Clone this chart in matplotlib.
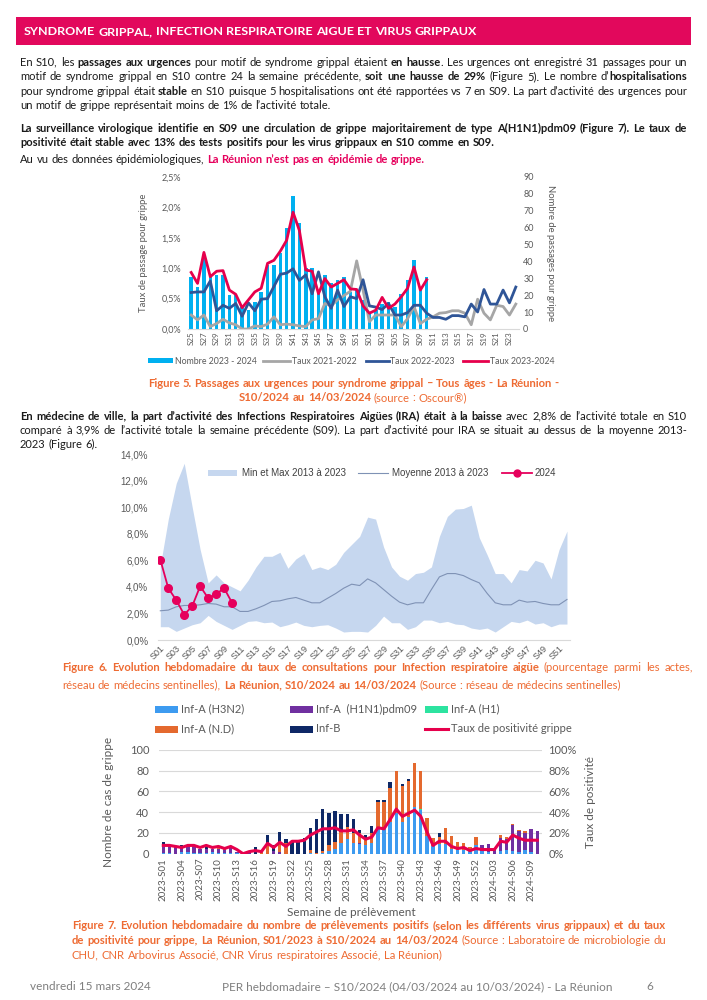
import numpy as np
import matplotlib
matplotlib.use('Agg')
from matplotlib import pyplot as plt
from matplotlib.patches import Rectangle
from matplotlib.lines import Line2D
from matplotlib.ticker import FuncFormatter

# ---------------- Figure 5 : passages aux urgences (S25 -> S24) ----------------
weeks5 = ['S%02d' % w for w in list(range(25, 53)) + list(range(1, 25))]
nombre_2324 = [31, 25, 43, 31, 32, 32, 20, 20, 13, 11, 16, 22, 38, 38, 45, 60, 79, 63, 36, 36,
               22, 32, 27, 29, 31, 22, 23, 17, 9, 11, 15, 16, 13, 21, 29, 41, 24, 31]
taux_2324 = [0.93, 0.75, 1.26, 0.86, 0.95, 0.96, 0.64, 0.57, 0.35, 0.48, 0.61, 0.67, 1.08, 1.13,
             1.28, 1.46, 1.92, 1.62, 0.97, 0.95, 0.58, 0.83, 0.69, 0.75, 0.81, 0.66, 0.65, 0.38,
             0.26, 0.31, 0.52, 0.34, 0.41, 0.53, 0.67, 1.02, 0.64, 0.81]
taux_2223 = [0.60, 0.61, 0.61, 0.79, 0.30, 0.39, 0.34, 0.42, 0.21, 0.43, 0.30, 0.49, 0.50, 0.70,
             0.90, 0.92, 0.99, 0.80, 0.89, 0.58, 0.94, 0.53, 0.34, 0.64, 0.37, 0.53, 0.50, 0.81,
             0.38, 0.36, 0.32, 0.42, 0.23, 0.23, 0.27, 0.39, 0.39, 0.26, 0.19, 0.19, 0.16, 0.22,
             0.22, 0.20, 0.41, 0.28, 0.65, 0.41, 0.41, 0.64, 0.43, 0.69]
taux_2122 = [0.23, 0.15, 0.23, 0.04, 0.09, 0.16, 0.10, 0.07, 0.0, 0.0, 0.05, 0.04, 0.08, 0.20,
             0.07, 0.08, 0.07, 0.05, 0.04, 0.15, 0.17, 0.42, 0.38, 0.48, 0.55, 0.62, 1.12, 0.64,
             0.12, 0.23, 0.23, 0.23, 0.23, 0.04, 0.17, 0.37, 0.09, 0.16, 0.20, 0.26, 0.27, 0.30,
             0.30, 0.26, 0.07, 0.49, 0.26, 0.15, 0.39, 0.37, 0.23, 0.41]

# ---------------- Figure 6 : IRA medecins sentinelles ----------------
weeks6 = ['S%02d' % w for w in range(1, 53)]
ira_max = [5.6, 9.1, 11.8, 13.3, 10.0, 6.8, 4.3, 4.9, 4.3, 4.0, 3.7, 4.5, 5.5, 6.3, 6.3, 6.6,
           5.4, 6.1, 6.5, 5.3, 5.5, 5.3, 5.7, 6.6, 7.2, 7.8, 9.25, 9.1, 7.0, 5.5, 4.8, 4.5, 5.0,
           5.1, 5.5, 7.8, 9.3, 9.85, 9.9, 10.15, 7.7, 6.4, 5.0, 5.0, 4.3, 5.3, 5.2, 6.0, 5.8,
           4.6, 6.8, 8.2]
ira_min = [1.0, 1.0, 0.65, 0.9, 1.15, 1.3, 1.85, 1.4, 1.1, 0.8, 1.1, 1.4, 1.45, 1.3, 1.35, 1.0,
           1.15, 1.35, 1.1, 1.0, 1.1, 1.15, 0.9, 0.6, 0.65, 0.65, 0.6, 1.1, 1.8, 1.3, 1.3, 0.8,
           1.0, 1.5, 1.5, 1.3, 1.4, 1.2, 1.15, 0.9, 0.8, 0.9, 0.6, 1.0, 1.4, 1.3, 1.5, 1.2, 1.3,
           1.0, 1.2, 1.2]
ira_moy = [2.2, 2.25, 2.5, 2.6, 2.6, 2.65, 2.75, 2.7, 2.5, 2.5, 2.15, 2.15, 2.35, 2.6, 2.9,
           2.95, 3.1, 3.2, 3.0, 2.8, 2.8, 3.15, 3.5, 3.9, 4.2, 4.1, 4.6, 4.3, 3.8, 3.3, 2.85,
           2.65, 2.8, 2.8, 3.8, 4.75, 5.0, 5.0, 4.85, 4.55, 4.3, 3.5, 2.8, 2.65, 2.65, 3.0, 2.85,
           2.9, 2.75, 2.65, 2.65, 3.05]
ira_2024 = [6.05, 3.9, 3.0, 1.9, 2.55, 4.05, 3.15, 3.45, 3.9, 2.8]

# ---------------- Figure 7 : virologie ----------------
weeks7 = ['2023-S%02d' % w for w in range(1, 53)] + ['2024-S%02d' % w for w in range(1, 11)]
inf_h3n2 = [1, 1, 0, 2, 2, 1, 1, 1, 2, 1, 1, 1, 1, 0, 0, 0, 0, 0, 0, 0,
            0, 0, 0, 0, 1, 0, 1, 3, 5, 10, 14, 10, 9, 8, 10, 24, 24, 31, 39, 31,
            35, 45, 42, 17, 7, 9, 9, 5, 4, 4, 3, 8, 3, 2, 0, 3, 4, 3, 2, 4, 2, 0]
inf_h1n1 = [5, 7, 7, 4, 5, 7, 4, 4, 3, 4, 3, 6, 1, 0, 2, 0, 0, 0, 3, 2,
            0, 0, 0, 0, 0, 0, 0, 0, 0, 0, 0, 0, 1, 0, 0, 0, 0, 0, 0, 0,
            0, 0, 0, 0, 0, 0, 0, 0, 0, 0, 0, 0, 5, 7, 4, 12, 10, 25, 20, 16, 22, 22]
inf_h1 = [0, 0, 0, 0, 0, 0, 0, 0, 0, 0, 0, 0, 0, 0, 0, 0, 0, 0, 0, 0,
          0, 0, 0, 0, 0, 0, 0, 0, 0, 0, 0, 0, 0, 0, 0, 0, 0, 0, 0, 0,
          0, 0, 1, 0, 0, 0, 0, 0, 0, 0, 0, 0, 0, 0, 0, 0, 0, 0, 0, 0, 0, 0]
inf_nd = [2, 0, 0, 0, 0, 0, 0, 0, 0, 1, 1, 0, 0, 0, 0, 0, 2, 8, 0, 8,
          10, 0, 0, 0, 3, 1, 2, 5, 6, 11, 12, 10, 10, 5, 10, 26, 26, 32, 41, 34,
          35, 42, 37, 17, 8, 7, 16, 12, 7, 6, 3, 8, 0, 0, 0, 3, 2, 1, 1, 2, 0, 0]
inf_b = [3, 0, 0, 2, 0, 0, 0, 3, 0, 1, 0, 0, 0, 0, 0, 6, 0, 10, 5, 11,
         4, 12, 12, 15, 21, 32, 40, 31, 30, 17, 12, 13, 3, 5, 7, 2, 2, 6, 0, 2,
         2, 0, 0, 0, 0, 4, 0, 0, 0, 0, 0, 0, 0, 0, 0, 0, 0, 0, 0, 0, 0, 0]
taux_pos = [8, 8, 7, 6, 8, 8, 6, 8, 6, 7, 5, 7, 4, 0, 2, 3, 2, 10, 6, 11,
            7, 12, 12, 13, 18, 21, 24, 24, 25, 22, 22, 23, 18, 14, 16, 25, 24, 33, 43, 36,
            39, 42, 36, 21, 8, 12, 12, 7, 5, 6, 3, 5, 4, 4, 4, 12, 11, 18, 15, 13, 13, 13]

W, H = 707, 1000
FONT = ['Lato', 'DejaVu Sans']
ARIAL = ['Liberation Sans', 'DejaVu Sans']
PINK = '#E6005C'
ORANGE = '#EE6B33'
GREY = '#595959'

fig = plt.figure(figsize=(W / 100, H / 100), dpi=100)
renderer = fig.canvas.get_renderer()


def fx(x):
    return x / W


def fy(y):
    return 1 - y / H


def rect(x0, y0, x1, y1):
    return [fx(x0), fy(y1), (x1 - x0) / W, (y1 - y0) / H]


def width_of(s, size, bold):
    t = fig.text(0, 0, s, fontsize=size, family=FONT, fontweight='bold' if bold else 'normal')
    w = t.get_window_extent(renderer).width
    t.remove()
    return w


def split_words(segs):
    words, cur = [], []
    for seg in segs:
        txt, bold = seg[0], seg[1]
        col = seg[2] if len(seg) > 2 else None
        for ch in txt:
            if ch == ' ':
                if cur:
                    words.append(cur)
                    cur = []
            elif cur and cur[-1][1] == bold and cur[-1][2] == col:
                cur[-1][0] += ch
            else:
                cur.append([ch, bold, col])
    if cur:
        words.append(cur)
    return words


def natural_width(segs, size):
    words = split_words(segs)
    sp = width_of('a a', size, False) - width_of('aa', size, False)
    return sum(width_of(p[0], size, p[1]) for w in words for p in w) + sp * (len(words) - 1)


def draw_line(segs, x0, x1, y, size, align='left', color='#1A1A1A'):
    words = split_words(segs)
    widths = [[width_of(p[0], size, p[1]) for p in w] for w in words]
    wsum = sum(sum(w) for w in widths)
    sp = width_of('a a', size, False) - width_of('aa', size, False)
    if align == 'justify' and len(words) > 1:
        gap = (x1 - x0 - wsum) / (len(words) - 1)
    else:
        gap = sp
    total = wsum + gap * (len(words) - 1)
    x = (x0 + x1) / 2 - total / 2 if align == 'center' else x0
    ybase = y + 0.33 * size * 100 / 72
    for w, ws in zip(words, widths):
        for (s, bold, col), pw in zip(w, ws):
            fig.text(fx(x), fy(ybase), s, fontsize=size, family=FONT,
                     fontweight='bold' if bold else 'normal',
                     color=col if col else color, va='baseline', ha='left')
            x += pw
        x += gap


N, B = False, True

# ---------------- texte ----------------
p1 = [
    [("En S10, les ", N), ("passages aux urgences", B), (" pour motif de syndrome grippal étaient ", N),
     ("en hausse", B), (". Les urgences ont enregistré 31 passages pour un", N)],
    [("motif de syndrome grippal en S10 contre 24 la semaine précédente, ", N),
     ("soit une hausse de 29%", B), (" (Figure 5). Le nombre d’", N), ("hospitalisations", B)],
    [("pour syndrome grippal était ", N), ("stable", B),
     (" en S10 puisque 5 hospitalisations ont été rapportées vs 7 en S09. La part d’activité des urgences pour", N)],
    [("un motif de grippe représentait moins de 1% de l’activité totale.", N)],
]
p2 = [
    [("La surveillance virologique identifie en S09 une circulation de grippe majoritairement de type A(H1N1)pdm09 (Figure 7). Le taux de", B)],
    [("positivité était stable avec 13% des tests positifs pour les virus grippaux en S10 comme en S09.", B)],
]
p3 = [("Au vu des données épidémiologiques, ", N), ("La Réunion n’est pas en épidémie de grippe.", B, PINK)]
p4 = [
    [("En médecine de ville, la part d’activité des Infections Respiratoires Aigües (IRA) était à la baisse", B),
     (" avec 2,8% de l’activité totale en S10", N)],
    [("comparé à 3,9% de l’activité totale la semaine précédente (S09). La part d’activité pour IRA se situait au dessus de la moyenne 2013-", N)],
    [("2023 (Figure 6).", N)],
]
cap5 = [
    [("Figure 5. Passages aux urgences pour syndrome grippal – Tous âges - La Réunion -", B)],
    [("S10/2024 au 14/03/2024", B), (" (source : Oscour®)", N)],
]
cap6 = [
    [("Figure 6. Evolution hebdomadaire du taux de consultations pour Infection respiratoire aigüe", B),
     (" (pourcentage parmi les actes,", N)],
    [("réseau de médecins sentinelles),", N), (" La Réunion, S10/2024 au 14/03/2024", B),
     (" (Source : réseau de médecins sentinelles)", N)],
]
cap7 = [
    [("Figure 7. Evolution hebdomadaire du nombre de prélèvements positifs (selon les différents virus grippaux) et du taux", B)],
    [("de positivité pour grippe, La Réunion, S01/2023 à S10/2024 au 14/03/2024", B),
     (" (Source : Laboratoire de microbiologie du", N)],
    [("CHU, CNR Arbovirus Associé, CNR Virus respiratoires Associé, La Réunion)", N)],
]

body_lines = [(p1[0], 667), (p1[1], 667), (p1[2], 667), (p2[0], 667), (p4[0], 667), (p4[1], 667)]
body = min(9.5, min(10 * t / natural_width(s, 10) for s, t in body_lines) * 0.995)
cap_lines = [(cap6[0], 631), (cap7[0], 594), (cap7[1], 594)]
capsz = min(9.5, min(10 * t / natural_width(s, 10) for s, t in cap_lines) * 0.995)

# bandeau titre
fig.patches.append(Rectangle((fx(16), fy(45)), (691 - 16) / W, 28 / H,
                             transform=fig.transFigure, color='#E2085C', lw=0))
title = [("SYNDROME GRIPPAL, INFECTION RESPIRATOIRE AIGUE ET VIRUS GRIPPAUX", B)]
tsize = 10 * 452 / natural_width(title, 10)
draw_line(title, 24, 691, 31, tsize, color='white')

for i, (segs, y) in enumerate(zip(p1, [62, 76.5, 91, 105])):
    draw_line(segs, 20, 687, y, body, align='justify' if i < 3 else 'left')
draw_line(p2[0], 20, 687, 128, body, align='justify')
draw_line(p2[1], 20, 687, 142, body)
draw_line(p3, 20, 687, 159, body)

draw_line(cap5[0], 100, 606, 383, capsz, align='center', color=ORANGE)
draw_line(cap5[1], 100, 606, 397.5, capsz, align='center', color=ORANGE)

draw_line(p4[0], 20, 687, 416, body, align='justify')
draw_line(p4[1], 20, 687, 430, body, align='justify')
draw_line(p4[2], 20, 687, 444, body)

draw_line(cap6[0], 62, 693, 667, capsz, align='justify', color=ORANGE)
draw_line(cap6[1], 62, 693, 685, capsz, color=ORANGE)

draw_line(cap7[0], 72, 666, 925, capsz, align='justify', color=ORANGE)
draw_line(cap7[1], 72, 666, 940, capsz, align='justify', color=ORANGE)
draw_line(cap7[2], 72, 666, 955, capsz, color=ORANGE)

# pied de page
fig.text(fx(30), fy(990), "vendredi 15 mars 2024", fontsize=8.5, family=FONT, color='#7F7F7F')
fig.text(fx(222), fy(990), "PER hebdomadaire – S10/2024 (04/03/2024 au 10/03/2024) - La Réunion",
         fontsize=8.5, family=FONT, color='#7F7F7F')
fig.text(fx(646), fy(990), "6", fontsize=8.5, family=FONT, color='#7F7F7F')

pct1 = FuncFormatter(lambda v, p: ('%.1f%%' % v).replace('.', ','))


def clean(ax):
    for s in ax.spines.values():
        s.set_visible(False)


# ---------------- Figure 5 ----------------
ax5 = fig.add_axes(rect(188, 177, 519, 329))
ax5b = ax5.twinx()
x5 = np.arange(len(weeks5))
ax5b.bar(x5[:len(nombre_2324)], nombre_2324, width=0.55, color='#00B0F0', lw=0)
ax5.plot(x5, taux_2122, color='#A6A6A6', lw=2)
ax5.plot(x5, taux_2223, color='#2F5597', lw=2)
ax5.plot(x5[:len(taux_2324)], taux_2324, color='#E6004C', lw=2)
ax5.set_zorder(ax5b.get_zorder() + 1)
ax5.patch.set_visible(False)
ax5.set_xlim(-0.5, 51.5)
ax5.set_ylim(0, 2.5)
ax5b.set_ylim(0, 90)
ax5.set_yticks(np.arange(0, 2.51, 0.5))
ax5b.set_yticks(range(0, 91, 10))
ax5.yaxis.set_major_formatter(pct1)
ax5.set_xticks(x5[::2])
ax5.set_xticklabels(weeks5[::2], rotation=90)
clean(ax5)
clean(ax5b)
ax5.spines['bottom'].set_visible(True)
ax5.spines['bottom'].set_color('#D9D9D9')
ax5.tick_params(axis='y', length=0, labelsize=6.5, labelcolor=GREY, pad=5)
ax5.tick_params(axis='x', length=0, labelsize=5.8, labelcolor=GREY, pad=1.5)
ax5b.tick_params(length=0, labelsize=6.5, labelcolor=GREY, pad=3)
for lab in ax5.get_xticklabels() + ax5.get_yticklabels() + ax5b.get_yticklabels():
    lab.set_family(FONT)
fig.text(fx(143), fy(253), "Taux de passage pour grippe", rotation=90, ha='center', va='center',
         fontsize=6.8, family=FONT, color=GREY)
fig.text(fx(551), fy(253), "Nombre de passages pour grippe", rotation=270, ha='center', va='center',
         fontsize=6.8, family=FONT, color=GREY)

# legende figure 5
ly = 361
LEG5 = 6.3
fig.patches.append(Rectangle((fx(148), fy(ly + 2.5)), 25 / W, 5 / H, transform=fig.transFigure,
                             color='#00B0F0', lw=0))
fig.text(fx(175), fy(ly), "Nombre 2023 - 2024", fontsize=LEG5, family=FONT, color=GREY, va='center')
for (xa, xb, col, lab) in [(263, 290, '#A6A6A6', "Taux 2021-2022"),
                           (366, 389, '#2F5597', "Taux 2022-2023"),
                           (463, 488, '#E6004C', "Taux 2023-2024")]:
    fig.lines.append(Line2D([fx(xa), fx(xb)], [fy(ly), fy(ly)], transform=fig.transFigure,
                            color=col, lw=2))
    fig.text(fx(xb + 1.5), fy(ly), lab, fontsize=LEG5, family=FONT, color=GREY, va='center')

# ---------------- Figure 6 ----------------
ax6 = fig.add_axes(rect(158, 454, 570, 640))
x6 = np.arange(len(weeks6))
ax6.fill_between(x6, ira_min, ira_max, color='#C6D7EF', lw=0)
ax6.plot(x6, ira_moy, color='#7F92B5', lw=0.8)
ax6.plot(x6[:len(ira_2024)], ira_2024, color=PINK, lw=1.3, marker='o', ms=5.5)
ax6.set_xlim(-0.29, 51.38)
ax6.set_ylim(0, 14)
ax6.set_yticks(range(0, 15, 2))
ax6.yaxis.set_major_formatter(pct1)
ax6.set_xticks(x6[::2])
ax6.set_xticklabels(weeks6[::2], rotation=45, ha='right', rotation_mode='anchor')
clean(ax6)
ax6.spines['bottom'].set_visible(True)
ax6.spines['bottom'].set_color('#D9D9D9')
ax6.tick_params(axis='y', length=0, labelsize=7, labelcolor=GREY, pad=7)
ax6.tick_params(axis='x', length=0, labelsize=6.5, labelcolor=GREY, pad=3)
for lab in ax6.get_xticklabels() + ax6.get_yticklabels():
    lab.set_family(ARIAL)

ly = 473
LEG6 = 7
fig.patches.append(Rectangle((fx(208), fy(ly + 3)), 29 / W, 6 / H, transform=fig.transFigure,
                             color='#C6D7EF', lw=0))
fig.text(fx(242), fy(ly), "Min et Max 2013 à 2023", fontsize=LEG6, family=ARIAL, color='#404040', va='center')
fig.lines.append(Line2D([fx(358), fx(388)], [fy(ly), fy(ly)], transform=fig.transFigure,
                        color='#7F92B5', lw=0.8))
fig.text(fx(392), fy(ly), "Moyenne 2013 à 2023", fontsize=LEG6, family=ARIAL, color='#404040', va='center')
fig.lines.append(Line2D([fx(502), fx(532)], [fy(ly), fy(ly)], transform=fig.transFigure,
                        color=PINK, lw=1.3))
fig.lines.append(Line2D([fx(517)], [fy(ly)], transform=fig.transFigure, color=PINK,
                        marker='o', ms=5, lw=0))
fig.text(fx(535), fy(ly), "2024", fontsize=LEG6, family=ARIAL, color='#404040', va='center')

# ---------------- Figure 7 ----------------
series7 = [(inf_h3n2, '#3D9BF0', "Inf-A (H3N2)"), (inf_h1n1, '#7030A0', "Inf-A  (H1N1)pdm09"),
           (inf_h1, '#2DE3A0', "Inf-A (H1)"), (inf_nd, '#E4692E', "Inf-A (N.D)"),
           (inf_b, '#0E2866', "Inf-B")]
ax7 = fig.add_axes(rect(159, 750, 541.6, 853.7))
x7 = np.arange(len(weeks7))
bottom = np.zeros(len(weeks7))
for vals, col, lab in series7:
    ax7.bar(x7, vals, width=0.55, bottom=bottom, color=col, lw=0, zorder=2)
    bottom += np.array(vals)
ax7b = ax7.twinx()
ax7b.plot(x7, taux_pos, color='#E6004C', lw=2.2)
ax7.set_xlim(-0.7, 61.7)
ax7.set_ylim(0, 100)
ax7b.set_ylim(0, 100)
ax7.set_yticks(range(0, 101, 20))
ax7b.set_yticks(range(0, 101, 20))
ax7b.yaxis.set_major_formatter(FuncFormatter(lambda v, p: '%d%%' % round(v)))
ax7.yaxis.grid(True, color='#D9D9D9', lw=0.8, zorder=0)
ax7.set_axisbelow(True)
ax7.set_xticks(x7[::3])
ax7.set_xticklabels(weeks7[::3], rotation=90)
clean(ax7)
clean(ax7b)
ax7.tick_params(axis='y', length=0, labelsize=8, labelcolor=GREY, pad=7)
ax7.tick_params(axis='x', length=0, labelsize=7, labelcolor=GREY, pad=3)
ax7b.tick_params(length=0, labelsize=8, labelcolor=GREY, pad=5)
for lab in ax7.get_xticklabels() + ax7.get_yticklabels() + ax7b.get_yticklabels():
    lab.set_family(FONT)
fig.text(fx(108), fy(802), "Nombre de cas de grippe", rotation=90, ha='center', va='center',
         fontsize=8.5, family=FONT, color=GREY)
fig.text(fx(590), fy(802), "Taux de positivité", rotation=90, ha='center', va='center',
         fontsize=8.5, family=FONT, color=GREY)
fig.text(fx(351), fy(912), "Semaine de prélèvement", ha='center', va='center',
         fontsize=8.5, family=FONT, color=GREY)

# legende figure 7
cols = [155, 290, 425]
rows = [709, 729]
for k, (vals, col, lab) in enumerate(series7):
    cx, cy = cols[k % 3], rows[k // 3]
    fig.patches.append(Rectangle((fx(cx), fy(cy + 3.5)), 23 / W, 7 / H, transform=fig.transFigure,
                                 color=col, lw=0))
    fig.text(fx(cx + 26), fy(cy), lab, fontsize=8, family=FONT, color=GREY, va='center')
fig.lines.append(Line2D([fx(425), fx(448)], [fy(729), fy(729)], transform=fig.transFigure,
                        color='#E6004C', lw=2.2))
fig.text(fx(451), fy(729), "Taux de positivité grippe", fontsize=8, family=FONT, color=GREY, va='center')

fig.savefig('out.png', dpi=100)
